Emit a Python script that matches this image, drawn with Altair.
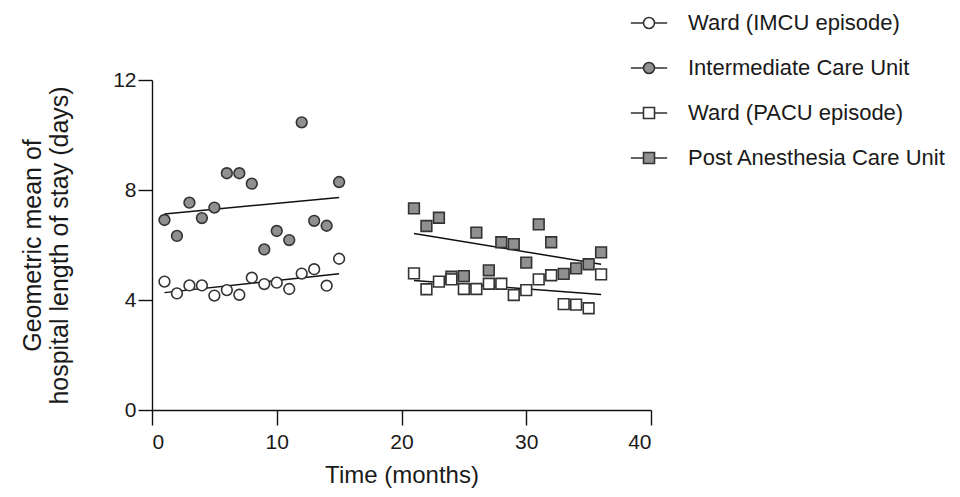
import altair as alt
import pandas as pd

# Months
imcu_months = list(range(1, 16))
pacu_months = list(range(21, 37))

# Geometric mean of hospital length of stay (days)
ward_imcu = [4.67, 4.24, 4.53, 4.53, 4.16, 4.36, 4.19, 4.81, 4.58, 4.63, 4.40, 4.96, 5.12, 4.52, 5.50]
imcu = [6.91, 6.33, 7.54, 6.98, 7.36, 8.61, 8.61, 8.23, 5.84, 6.51, 6.18, 10.46, 6.88, 6.70, 8.29]
ward_pacu = [4.97, 4.39, 4.67, 4.75, 4.40, 4.40, 4.59, 4.59, 4.18, 4.36, 4.75, 4.90, 3.85, 3.83, 3.70, 4.93]
pacu = [7.33, 6.69, 6.99, 4.85, 4.87, 6.45, 5.08, 6.10, 6.03, 5.36, 6.75, 6.10, 4.95, 5.15, 5.30, 5.73]

circle_series = ["Ward (IMCU episode)", "Intermediate Care Unit"]
square_series = ["Ward (PACU episode)", "Post Anesthesia Care Unit"]
fills = ["#ffffff", "#909090"]

rows = []
for name, kind, months, vals in [
    (circle_series[1], "circle", imcu_months, imcu),
    (circle_series[0], "circle", imcu_months, ward_imcu),
    (square_series[1], "square", pacu_months, pacu),
    (square_series[0], "square", pacu_months, ward_pacu),
]:
    for m, v in zip(months, vals):
        rows.append({"series": name, "kind": kind, "month": m, "value": v})
df = pd.DataFrame(rows)

FONT = "Liberation Sans"
TXT = "#1a1a1a"
STROKE = "#333333"

# legend glyphs: line - marker - line
circle_path = "M-3.3,0L-1,0M1,0L3.3,0M1,0A1,1,0,1,1,-1,0A1,1,0,1,1,1,0Z"
square_path = "M-3.3,0L-1,0M1,0L3.3,0M-1,-1L1,-1L1,1L-1,1Z"

x_enc = alt.X("month:Q", scale=alt.Scale(domain=[0, 40], nice=False),
              axis=alt.Axis(values=[0, 10, 20, 30, 40], title="Time (months)",
                            tickSize=15, labelPadding=6, titlePadding=11))
y_enc = alt.Y("value:Q", scale=alt.Scale(domain=[0, 12], nice=False),
              axis=alt.Axis(values=[0, 4, 8, 12],
                            title=["Geometric mean of", "hospital length of stay (days)"],
                            tickSize=14, labelPadding=2, titlePadding=40, titleLineHeight=27,
                            titleFontSize=25))

base = alt.Chart(df)

lines = base.transform_regression(
    "month", "value", groupby=["series"]
).mark_line(color="#111111", strokeWidth=1.5).encode(
    x=x_enc, y=y_enc, detail="series:N"
)

circles = base.transform_filter(alt.datum.kind == "circle").mark_point(
    shape="circle", filled=True, size=115, stroke=STROKE, strokeWidth=1.6, opacity=1
).encode(
    x=x_enc, y=y_enc,
    fill=alt.Fill("series:N", scale=alt.Scale(domain=circle_series, range=fills),
                  legend=alt.Legend(title=None, symbolType=circle_path,
                                    legendX=486, legendY=-68)),
)

squares = base.transform_filter(alt.datum.kind == "square").mark_point(
    shape="square", filled=True, size=115, stroke=STROKE, strokeWidth=1.6, opacity=1
).encode(
    x=x_enc, y=y_enc,
    fill=alt.Fill("series:N", scale=alt.Scale(domain=square_series, range=fills),
                  legend=alt.Legend(title=None, symbolType=square_path,
                                    legendX=486, legendY=22)),
)

chart = alt.layer(lines, circles, squares).resolve_scale(
    fill="independent"
).properties(
    width=499, height=330, autosize="none",
    padding={"left": 144, "top": 72, "right": 300, "bottom": 79},
).configure_view(stroke=None).configure_axis(
    grid=False, domainColor="#111111", tickColor="#111111", domainWidth=1.4, tickWidth=1.4,
    labelFont=FONT, labelFontSize=21, labelColor=TXT,
    titleFont=FONT, titleFontSize=24, titleFontWeight="normal", titleColor=TXT,
).configure_legend(
    orient="none", padding=0,
    symbolSize=121, symbolStrokeColor=STROKE, symbolStrokeWidth=1.6, symbolOpacity=1,
    labelFont=FONT, labelFontSize=22, labelColor=TXT, labelOffset=28, rowPadding=23,
    labelLimit=400,
)

chart.save("out.html", embed_options={"renderer": "svg", "actions": False})
